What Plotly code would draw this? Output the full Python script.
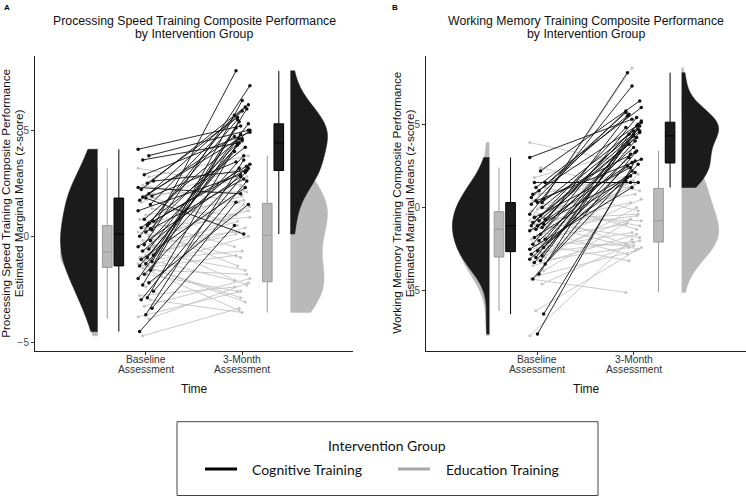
import numpy as np
import plotly.graph_objects as go

W, H = 746, 497

# ---------------- data ----------------
time_ticks = [1, 2]
time_labels = [["Baseline", "Assessment"], ["3-Month", "Assessment"]]
group_names = ["Cognitive Training", "Education Training"]

# Panel A: Processing speed (cognitive training group)
ps_cog_base = [4.1, 3.8, 3.6, 2.6, 2.5, 2.2, 1.9, 1.8, 1.7, 1.5, 2.9, 1.2, 2.0, 1.85, 0.7,
               0.5, 0.4, 0.3, 0.2, 0.0, -0.2, -0.4, -0.5, -0.6, -0.7, -0.9, -1.0, -1.1,
               -1.2, -1.3, -1.4, -1.6, -1.8, -2.0, -2.2, -2.3, -2.6, -2.9, -3.0, -3.4,
               -3.7, -4.5, 0.35, 0.8, 2.3, 0.6]
ps_cog_3mo = [5.2, 5.0, 4.4, 3.1, 5.6, 6.1, 3.5, 0.1, 4.7, 5.9, 4.9, 2.9, 6.2, 4.6, 3.3,
              5.5, 4.2, 7.8, 2.7, 5.7, 4.5, 7.1, 2.8, 5.3, 3.2, 6.0, 4.3, 2.3, 5.1, 3.8,
              4.0, 6.4, 3.4, 4.8, 1.5, 5.4, 2.6, 4.4, 3.0, 1.6, 3.6, 0.5, 4.6, 5.0, 2.0, 3.2]
# Panel A: Processing speed (education training group)
ps_edu_base = [3.2, 2.8, 2.4, 2.0, 1.9, 1.6, 1.3, 1.0, 0.8, 0.6, 0.4, 0.2, 0.0, -0.2, -0.4,
               -0.6, -0.7, -0.8, -0.9, -1.0, -1.1, -1.2, -1.3, -1.4, -1.5, -1.6, -1.8,
               -1.35, -1.45, -2.4, -2.8, -3.0, -3.3, -3.8, -3.9, -4.7, -0.5, 0.3, -1.0, -0.3]
ps_edu_3mo = [2.4, 3.8, 1.6, 2.1, 0.5, 3.3, 1.0, 1.7, -0.5, 1.9, 0.9, -1.0, 1.2, 0.2, -2.3,
              0.7, -1.6, 0.1, 2.2, -2.1, -0.7, 1.4, -2.9, 0.0, -3.5, -1.8, -2.6, -3.1,
              -0.9, 1.5, -2.4, -3.6, -2.0, -2.6, -2.2, -3.4, 2.8, -1.4, 0.4, 1.6]

# Panel B: Working memory (cognitive training group)
wm_cog_base = [3.0, 2.2, 1.5, 1.5, 1.0, 0.8, 0.5, 0.3, 0.2, 0.0, 0.4, -0.4, -0.5, -0.6,
               -0.7, -0.8, -0.9, -1.0, -1.1, -1.1, -1.2, -1.3, -1.4, -1.6, -1.8, -1.9,
               -2.0, -2.2, -2.4, -2.6, -2.8, -2.9, -3.0, -3.1, -3.2, -3.3, -3.4, -4.0,
               -4.3, -6.4, -7.6, 0.6, 0.3, 1.2, -2.5]
wm_cog_3mo = [5.3, 6.4, 1.5, 1.5, 5.6, 4.9, 8.1, 3.3, 5.8, 4.4, 2.9, 7.3, 4.6, 2.4, 5.0,
              3.8, 4.2, 5.5, 2.1, 4.8, 3.6, 5.2, 2.7, 4.5, 1.9, 4.7, 3.0, 5.4, 2.5, 4.0,
              1.6, 4.3, 5.1, 2.2, 4.9, 3.2, 2.6, 4.4, 3.4, 1.8, 2.8, 5.7, 4.6, 6.0, 1.2]
# Panel B: Working memory (education training group)
wm_edu_base = [3.9, 2.4, 1.8, 1.2, 0.8, 0.4, 0.1, -0.1, -0.2, -0.4, -0.6, -0.8, -0.9, -1.0,
               -1.1, -1.2, -1.3, -1.5, -1.7, -1.9, -2.1, -2.3, -2.5, -2.7, -2.9, -3.0,
               -3.2, -3.5, -3.8, -4.1, -4.3, -4.6, -6.2, -7.7, 0.0, -0.5, -0.7, -2.2, -3.3]
wm_edu_3mo = [2.6, 1.0, 3.4, -0.2, 1.9, -1.3, 2.4, 0.8, -2.2, 1.6, -0.8, 8.4, -1.8, 0.3,
              -2.5, 1.2, -0.5, -2.8, 1.4, -1.0, -2.3, 0.5, -1.5, -2.0, -0.7, 2.0, -2.4,
              -1.6, -0.9, -2.6, -5.1, -2.1, -2.4, -1.9, -1.1, 1.5, -0.4, -3.2, 0.0]

panels = [
    dict(cog=(ps_cog_base, ps_cog_3mo), edu=(ps_edu_base, ps_edu_3mo),
         title=["Processing Speed Training Composite Performance", "by Intervention Group"],
         ytitle=["Processing Speed Training Composite Performance",
                 "Estimated Marginal Means (z-score)"],
         yrange=[-5.4, 8.5], xpx=(35, 353), tag="A", tagx=2),
    dict(cog=(wm_cog_base, wm_cog_3mo), edu=(wm_edu_base, wm_edu_3mo),
         title=["Working Memory Training Composite Performance", "by Intervention Group"],
         ytitle=["Working Memory Training Composite Performance",
                 "Estimated Marginal Means (z-score)"],
         yrange=[-8.6, 9.1], xpx=(426, 746), tag="B", tagx=390),
]

# ---------------- style ----------------
FONT = "Liberation Sans, Arial, sans-serif"
LEG_FONT = "Lato, Open Sans, sans-serif"
COG_FILL, EDU_FILL = "#1b1b1b", "#b9b9b9"
COG_LINE, EDU_LINE = "#111111", "#c4c4c4"
EDU_BOX_LINE = "#9a9a9a"
YDOM = [1 - 350.7 / H, 1 - 56 / H]


def px_x(v):
    return v / W


def px_y(v):
    return 1 - v / H


def jitter(i, k):
    return (((i * k) % 11) - 5) / 5 * 0.08


fig = go.Figure()

for p_i, p in enumerate(panels):
    xa = "x" if p_i == 0 else "x2"
    ya = "y" if p_i == 0 else "y2"
    for (vals_pair, fill) in [(p["edu"], EDU_FILL), (p["cog"], COG_FILL)]:
        for t_idx, (pos, side) in enumerate([(0.5, "negative"), (2.5, "positive")]):
            vals = vals_pair[t_idx]
            fig.add_trace(go.Violin(
                y=vals, x0=pos, side=side, width=0.77, spanmode="hard",
                scalemode="width", points=False,
                fillcolor=fill, line=dict(color=fill, width=0.5),
                box_visible=False, meanline_visible=False, opacity=1,
                showlegend=False, hoverinfo="skip", xaxis=xa, yaxis=ya))
    # boxplots (whiskers at 1.5 IQR; outlier points hidden)
    for t_idx, (pe, pc) in enumerate([(0.6, 0.72), (2.26, 2.38)]):
        fig.add_trace(go.Box(
            y=p["edu"][t_idx], x0=pe, width=0.1, boxpoints="outliers", whiskerwidth=0,
            marker=dict(opacity=0, size=1),
            fillcolor=EDU_FILL, line=dict(color=EDU_BOX_LINE, width=1),
            showlegend=False, hoverinfo="skip", xaxis=xa, yaxis=ya))
        fig.add_trace(go.Box(
            y=p["cog"][t_idx], x0=pc, width=0.1, boxpoints="outliers", whiskerwidth=0,
            marker=dict(opacity=0, size=1),
            fillcolor=COG_FILL, line=dict(color="#000000", width=1),
            showlegend=False, hoverinfo="skip", xaxis=xa, yaxis=ya))
    for g_name, (b, m), col, lw, ms in [(group_names[1], p["edu"], EDU_LINE, 0.9, 3),
                                        (group_names[0], p["cog"], COG_LINE, 0.9, 3.5)]:
        xs, ys = [], []
        for i, (vb, vm) in enumerate(zip(b, m)):
            xs += [time_ticks[0] + jitter(i, 7), time_ticks[1] + jitter(i + 3, 5), None]
            ys += [vb, vm, None]
        fig.add_trace(go.Scatter(
            x=xs, y=ys, mode="lines+markers", name=g_name,
            line=dict(color=col, width=lw), marker=dict(color=col, size=ms),
            showlegend=False, hoverinfo="skip", xaxis=xa, yaxis=ya))

axis_common = dict(showgrid=False, zeroline=False, showline=True, linecolor="#222222",
                   linewidth=1, ticks="outside", ticklen=3, tickcolor="#333333")

fig.update_layout(
    width=W, height=H, margin=dict(l=0, r=0, t=0, b=0, pad=0),
    paper_bgcolor="white", plot_bgcolor="white", showlegend=False,
    violinmode="overlay", boxmode="overlay",
    font=dict(family=FONT, color="#000000"),
    xaxis=dict(domain=[px_x(35), px_x(353)], range=[-0.15, 3.15], tickvals=time_ticks,
               showticklabels=False, anchor="y", **axis_common),
    yaxis=dict(domain=YDOM, range=panels[0]["yrange"], tickvals=[-5, 0, 5],
               tickfont=dict(size=10, color="#4d4d4d"), anchor="x", **axis_common),
    xaxis2=dict(domain=[px_x(426), 1.0], range=[-0.16, 3.17], tickvals=time_ticks,
                showticklabels=False, anchor="y2", **axis_common),
    yaxis2=dict(domain=YDOM, range=panels[1]["yrange"], tickvals=[-5, 0, 5],
                tickfont=dict(size=10, color="#4d4d4d"), anchor="x2", **axis_common),
)

ann = []
for p_i, p in enumerate(panels):
    xref = "x" if p_i == 0 else "x2"
    cx = (p["xpx"][0] + p["xpx"][1]) / 2
    for k, line in enumerate(p["title"]):
        ann.append(dict(text=line, x=px_x(cx), y=px_y(21 + 13 * k), xref="paper", yref="paper",
                        showarrow=False, font=dict(size=12.3, family=FONT, color="#111111"),
                        xanchor="center", yanchor="middle"))
    for tv, lab in zip(time_ticks, time_labels):
        for k, line in enumerate(lab):
            ann.append(dict(text=line, x=tv, xref=xref, y=px_y(359.2 + 10.5 * k), yref="paper",
                            showarrow=False, font=dict(size=10.3, family=FONT, color="#333333"),
                            xanchor="center", yanchor="middle"))
    ann.append(dict(text="Time", x=px_x(cx), y=px_y(389), xref="paper", yref="paper",
                    showarrow=False, font=dict(size=12, family=FONT, color="#111111"),
                    xanchor="center", yanchor="middle"))
    ann.append(dict(text="<b>" + p["tag"] + "</b>", x=px_x(p["tagx"]), y=px_y(1),
                    xref="paper", yref="paper", showarrow=False,
                    font=dict(size=8, family=FONT, color="#000000"),
                    xanchor="left", yanchor="top"))
    for k, line in enumerate(p["ytitle"]):
        ann.append(dict(text=line, x=px_x(p["xpx"][0] - 29.5 + 12.5 * k),
                        y=(YDOM[0] + YDOM[1]) / 2,
                        xref="paper", yref="paper", showarrow=False, textangle=-90,
                        font=dict(size=11.7, family=FONT, color="#111111"),
                        xanchor="center", yanchor="middle"))

# legend (drawn box)
ann.append(dict(text="Intervention Group", x=px_x(387.5), y=px_y(445), xref="paper",
                yref="paper", showarrow=False, font=dict(size=14, family=LEG_FONT, color="#111111"),
                xanchor="center", yanchor="middle"))
ann.append(dict(text=group_names[0], x=px_x(250), y=px_y(469), xref="paper", yref="paper",
                showarrow=False, font=dict(size=14, family=LEG_FONT, color="#111111"),
                xanchor="left", yanchor="middle"))
ann.append(dict(text=group_names[1], x=px_x(444), y=px_y(469), xref="paper", yref="paper",
                showarrow=False, font=dict(size=14, family=LEG_FONT, color="#111111"),
                xanchor="left", yanchor="middle"))
fig.update_layout(annotations=ann)

shapes = [
    dict(type="rect", xref="paper", yref="paper", x0=px_x(177), x1=px_x(598),
         y0=px_y(495.5), y1=px_y(421.7), line=dict(color="#444444", width=1)),
    dict(type="line", xref="paper", yref="paper", x0=px_x(205), x1=px_x(237),
         y0=px_y(469), y1=px_y(469), line=dict(color="#000000", width=3)),
    dict(type="line", xref="paper", yref="paper", x0=px_x(398), x1=px_x(430),
         y0=px_y(469), y1=px_y(469), line=dict(color="#a6a6a6", width=3)),
]
fig.update_layout(shapes=shapes)

fig.write_html("out.html", config={"displayModeBar": False},
               post_script="document.body.style.margin='0';document.body.style.overflow='hidden';")
